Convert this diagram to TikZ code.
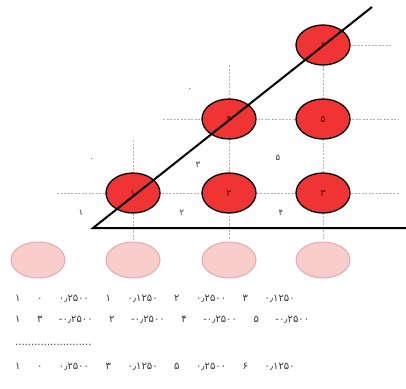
\documentclass[tikz,border=0pt]{standalone}
\usepackage{fontspec}
\newfontfamily\fafont[Script=Arabic]{DejaVu Sans}
\newfontfamily\rowfont[WordSpace=5.2]{DejaVu Sans}
\usepackage{xcolor}
\definecolor{dotred}{RGB}{240,52,52}
\definecolor{dotpink}{RGB}{250,205,205}
\definecolor{pinkedge}{RGB}{222,172,172}
\definecolor{gridgray}{RGB}{165,178,195}
\definecolor{inkgray}{RGB}{55,55,55}
\usetikzlibrary{shapes.geometric, backgrounds}

\begin{document}
\begin{tikzpicture}[x=1pt, y=-1pt,
  dotnode/.style={ellipse, draw=black, line width=1.3pt, fill=dotred, inner sep=0pt,
                  minimum width=54pt, minimum height=40pt,
                  font=\fafont\fontsize{9.5}{9.5}\selectfont, text=red!40!black},
  ghost/.style={ellipse, draw=pinkedge, line width=1pt, fill=dotpink, inner sep=0pt,
                minimum width=54pt, minimum height=36pt},
  gridln/.style={draw=gridgray, line width=0.6pt, dash pattern=on 2pt off 1.5pt},
  axisln/.style={draw=black, line width=2pt},
  numlbl/.style={font=\fafont\fontsize{8.5}{8.5}\selectfont, text=inkgray},
  rowtxt/.style={anchor=west, inner sep=0pt, font=\rowfont\fontsize{10}{10}\selectfont, text=inkgray}
]
\useasboundingbox (0,0) rectangle (406,388);

% red points
\node[dotnode] (p1) at (133,193) {۱};
\node[dotnode] (p2) at (229,193) {۲};
\node[dotnode] (p3) at (323,193) {۳};
\node[dotnode] (p4) at (229,119) {۴};
\node[dotnode] (p5) at (323,119) {۵};
\node[dotnode] (p6) at (323,45) {۶};

% dashed grid behind the points
\coordinate (g1w) at (57,193);  \coordinate (g1e) at (400,193);
\coordinate (g2w) at (163,119); \coordinate (g2e) at (398,119);
\coordinate (g3e) at (392,45);
\coordinate (v1t) at (133,140); \coordinate (v1b) at (133,240);
\coordinate (v2t) at (229,65);  \coordinate (v2b) at (229,240);
\coordinate (v3b) at (323,240);
\begin{scope}[on background layer]
  \draw[gridln] (g1w) -- (g1e);
  \draw[gridln] (g2w) -- (g2e);
  \draw[gridln] (p6) -- (g3e);
  \draw[gridln] (v1t) -- (v1b);
  \draw[gridln] (v2t) -- (v2b);
  \draw[gridln] (p6) -- (v3b);
\end{scope}

% axes
\coordinate (org) at (93,228);
\coordinate (diagend) at (372,7);
\coordinate (baseend) at (406,228);
\draw[axisln] (diagend) -- (org) -- (baseend);

% small numbers between the grid lines
\node[numlbl] (n1) at (81,213) {۱};
\node[numlbl] (n2) at (182,213) {۲};
\node[numlbl] (n4) at (281,213) {۴};
\node[numlbl] (n3) at (198,165) {۳};
\node[numlbl] (n5) at (278,158) {۵};
\node[numlbl] (z1) at (92,160) {۰};
\node[numlbl] (z2) at (190,90) {۰};

% pale points under the base line
\node[ghost] (q1) at (38,260) {};
\node[ghost] (q2) at (133,260) {};
\node[ghost] (q3) at (229,260) {};
\node[ghost] (q4) at (323,260) {};

% rows of values
\node[rowtxt] (row1) at (15,299) {۱ ۰ ۰٫۲۵۰۰ ۱ ۰٫۱۲۵۰ ۲ ۰٫۲۵۰۰ ۳ ۰٫۱۲۵۰};
\node[rowtxt] (row2) at (15,320) {۱ ۳ -۰٫۲۵۰۰ ۲ -۰٫۲۵۰۰ ۴ -۰٫۲۵۰۰ ۵ -۰٫۲۵۰۰};
\node[rowtxt] (row3) at (15,345) {........................};
\node[rowtxt] (row4) at (15,367) {۱ ۰ ۰٫۲۵۰۰ ۳ ۰٫۱۲۵۰ ۵ ۰٫۲۵۰۰ ۶ ۰٫۱۲۵۰};
\end{tikzpicture}
\end{document}
